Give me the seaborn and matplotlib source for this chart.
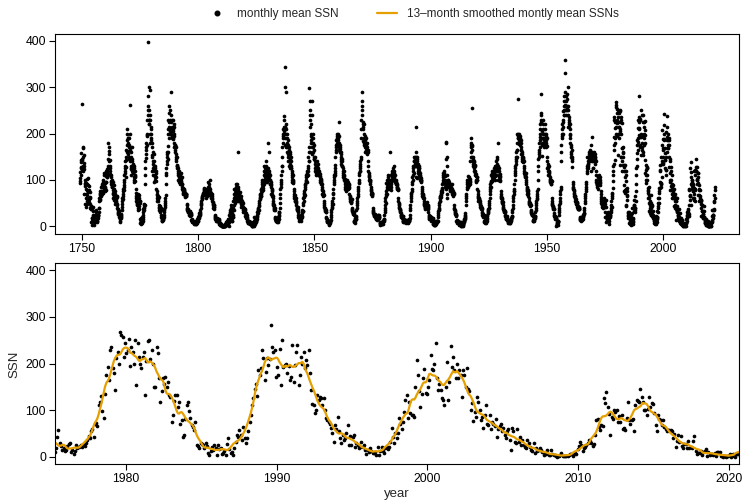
import numpy as np
import pandas as pd
import matplotlib
matplotlib.use("Agg")
import matplotlib.pyplot as plt
from matplotlib.lines import Line2D
import seaborn as sns

# ---------------- data: monthly mean sunspot numbers (one row per year) ----------------
ssn_1749_1799 = [
    [97,104,117,93,142,139,158,110,127,126,264,142],
    [122,127,144,118,129,171,149,168,153,130,123,137],
    [70,99,48,91,94,87,60,70,41,80,93,67],
    [55,48,101,79,91,104,73,76,75,89,87,79],
    [60,58,52,40,48,73,61,62,43,36,38,44],
    [8,2,12,18,36,18,25,33,11,16,22,42],
    [19,12,9,13,2,8,9,13,18,24,30,35],
    [12,25,15,15,9,11,20,10,23,21,18,25],
    [24,31,39,40,55,60,56,58,75,70,68,72],
    [66,76,70,84,67,85,90,86,87,70,95,76],
    [71,100,91,80,115,95,88,110,82,93,76,79],
    [85,95,78,110,120,108,95,115,123,106,118,105],
    [110,130,125,145,180,170,162,140,128,155,130,143],
    [112,125,118,106,98,92,110,96,85,100,95,87],
    [90,85,78,60,95,70,72,62,88,65,80,57],
    [70,55,62,75,48,66,55,60,58,52,63,64],
    [48,40,45,30,38,29,35,27,36,25,33,32],
    [20,25,15,12,18,22,8,17,24,20,21,26],
    [35,42,48,55,60,66,58,75,80,70,78,89],
    [95,100,110,85,125,120,130,115,140,105,128,143],
    [150,165,160,185,175,210,200,155,180,190,162,190],
    [175,190,150,145,170,200,165,262,170,140,125,124],
    [110,150,130,160,140,170,125,120,145,115,135,132],
    [120,115,130,100,105,95,125,110,98,118,105,109],
    [80,72,65,55,60,48,52,62,45,58,50,49],
    [40,70,35,45,68,52,38,60,44,55,50,55],
    [7,15,4,12,18,9,10,6,14,16,20,9],
    [15,12,25,20,30,38,35,40,42,45,48,46],
    [90,110,125,140,155,165,148,170,180,175,195,197],
    [200,230,250,260,398,280,240,300,250,220,230,230],
    [220,180,240,200,230,295,190,210,185,200,215,153],
    [170,150,180,120,160,135,140,125,110,155,130,121],
    [140,95,120,130,105,100,125,110,98,115,105,119],
    [80,75,70,60,68,55,65,58,60,62,55,62],
    [45,42,35,40,38,30,44,33,38,36,35,40],
    [25,20,15,18,10,12,22,14,16,20,18,14],
    [15,20,25,30,35,38,42,45,50,55,60,67],
    [90,110,115,125,140,150,135,160,155,145,160,173],
    [200,230,210,245,225,190,260,215,205,250,200,210],
    [230,200,290,210,225,240,195,215,205,230,190,188],
    [210,230,190,205,220,180,215,195,170,200,175,172],
    [175,160,165,150,140,170,145,155,130,150,125,133],
    [130,125,115,120,100,110,105,95,118,100,112,102],
    [105,110,95,100,90,115,98,102,92,96,105,92],
    [90,85,80,75,82,70,78,72,80,75,78,73],
    [75,70,72,65,68,62,70,66,70,64,68,70],
    [45,48,40,38,35,32,30,36,30,32,28,32],
    [30,28,25,32,24,26,22,30,28,25,27,23],
    [14,12,15,10,8,11,9,12,10,8,11,8],
    [8,6,5,9,7,4,8,6,7,9,5,8],
    [5,8,10,6,12,9,15,14,10,16,12,19],
]

ssn_1800_1849 = [
    [15,18,20,22,25,21,28,26,24,30,28,34],
    [40,45,50,48,55,60,58,62,65,60,68,69],
    [70,72,68,80,75,78,70,82,76,74,78,77],
    [78,75,60,80,72,68,75,65,70,74,72,73],
    [70,85,80,95,75,90,82,78,70,85,72,68],
    [80,75,100,70,65,72,60,68,62,70,58,64],
    [60,55,50,45,52,40,48,42,45,38,46,41],
    [25,22,20,18,15,16,14,12,18,15,13,14],
    [10,12,18,14,15,11,13,16,12,15,14,12],
    [5,6,3,4,2,5,6,4,3,5,4,3],
    [0,0,0,0,0,0,0,0,0,0,0,0],
    [0,2,0,0,5,0,3,0,2,6,3,7],
    [5,8,3,10,6,12,8,4,15,7,10,12],
    [0,12,15,25,8,30,22,18,28,10,35,40],
    [30,15,45,20,10,35,18,28,12,25,20,20],
    [40,55,35,70,60,80,45,65,72,50,58,78],
    [85,70,90,65,78,55,90,60,72,58,68,55],
    [80,75,160,85,55,70,65,72,58,66,60,74],
    [60,55,48,65,50,42,58,55,48,52,50,52],
    [45,40,35,50,30,42,38,35,40,32,38,37],
    [35,28,30,22,25,20,28,18,22,20,24,18],
    [15,10,8,12,6,10,8,7,11,9,8,6],
    [8,5,7,6,4,9,5,8,6,5,7,6],
    [0,1,0,2,0,3,5,2,4,0,3,6],
    [20,8,10,15,5,12,14,6,10,15,9,13],
    [10,20,15,30,25,22,35,28,40,32,38,43],
    [35,45,50,55,62,58,70,60,68,65,72,79],
    [70,65,80,90,75,95,85,100,78,88,82,88],
    [95,120,100,110,130,90,115,105,125,95,110,107],
    [100,130,110,140,95,120,125,105,118,102,115,122],
    [110,125,180,100,120,115,105,160,110,100,92,92],
    [100,95,85,90,70,88,75,80,65,78,70,64],
    [60,55,50,48,45,40,42,38,45,35,40,34],
    [20,18,15,12,14,10,16,12,8,11,12,13],
    [10,15,12,20,8,18,25,22,15,28,30,31],
    [40,50,60,70,80,85,95,90,110,100,120,130],
    [130,150,170,180,190,200,210,195,215,205,230,237],
    [200,175,300,343,215,215,190,290,210,220,200,170],
    [200,180,190,170,160,175,150,185,155,140,165,154],
    [130,170,150,160,125,145,135,155,140,130,150,126],
    [125,115,110,120,100,105,95,110,100,98,95,93],
    [75,70,80,60,65,55,68,58,62,55,60,52],
    [50,45,55,38,42,35,40,38,36,42,32,31],
    [25,20,15,22,12,18,20,14,16,18,15,22],
    [12,18,22,15,25,20,30,28,22,35,32,32],
    [45,50,60,55,70,65,62,75,72,80,68,88],
    [85,90,100,95,110,105,98,115,108,120,95,111],
    [110,120,130,125,150,140,160,170,140,298,270,160],
    [215,250,240,230,200,185,220,180,195,190,170,155],
    [240,270,200,180,170,190,160,175,150,165,145,145],
]

ssn_1850_1899 = [
    [140,150,125,135,120,130,110,125,115,130,120,116],
    [130,115,140,120,125,110,135,118,122,115,120,114],
    [115,110,105,100,112,95,108,98,102,95,100,92],
    [90,85,80,78,70,75,68,72,65,70,68,68],
    [55,50,45,42,40,38,35,36,32,35,30,30],
    [20,18,15,12,10,14,8,12,10,12,11,10],
    [5,8,3,10,6,4,8,12,7,10,12,13],
    [20,25,30,35,40,45,42,50,55,48,60,71],
    [70,80,90,95,100,110,105,115,120,110,125,133],
    [150,160,170,175,185,165,195,180,200,175,190,195],
    [190,200,175,185,170,225,180,195,165,175,160,166],
    [170,160,155,150,145,140,160,135,140,130,145,129],
    [130,125,120,110,115,105,118,100,108,102,110,102],
    [95,90,85,80,88,75,82,78,85,80,84,80],
    [95,100,85,90,80,95,88,92,85,90,82,88],
    [70,65,60,62,55,58,52,56,50,55,52,59],
    [40,38,35,32,30,28,30,26,28,25,30,26],
    [10,8,12,15,6,14,18,12,16,20,15,21],
    [35,40,45,50,55,60,65,70,75,80,85,93],
    [95,100,110,115,120,125,130,118,140,135,150,145],
    [190,210,230,250,290,270,240,260,220,215,225,184],
    [210,200,190,220,180,175,195,170,185,160,175,164],
    [180,190,170,175,160,165,180,155,170,160,165,160],
    [140,130,120,115,110,105,100,108,95,100,98,100],
    [90,85,80,75,78,70,72,68,70,65,72,69],
    [40,35,32,30,28,25,27,24,26,22,25,26],
    [25,22,20,18,16,20,15,18,22,14,17,20],
    [20,25,18,22,24,20,15,22,25,18,20,19],
    [8,6,4,7,3,5,6,4,8,5,7,5],
    [4,6,8,5,10,8,12,10,14,12,16,15],
    [25,30,35,40,45,55,60,50,65,70,75,94],
    [70,85,90,80,100,95,105,85,110,90,95,81],
    [90,95,100,161,95,89,85,100,110,90,95,78],
    [85,95,100,110,105,115,120,100,125,110,105,103],
    [130,120,115,110,105,100,95,110,100,98,95,92],
    [100,95,90,92,85,88,80,85,82,80,78,80],
    [60,55,50,48,45,40,42,38,35,32,30,34],
    [28,25,22,24,20,22,18,20,22,19,21,21],
    [12,10,14,8,15,10,12,9,13,8,12,11],
    [8,10,12,6,14,8,11,13,9,12,10,12],
    [6,8,10,12,9,14,10,15,12,16,13,17],
    [25,35,40,45,55,60,65,70,72,75,80,92],
    [95,105,110,100,125,120,130,140,115,140,130,150],
    [130,145,150,140,135,160,215,140,130,150,105,104],
    [150,140,135,145,125,130,120,135,115,130,125,110],
    [125,120,115,110,105,100,108,100,104,95,100,97],
    [85,80,75,70,72,65,68,62,70,60,65,61],
    [55,50,48,45,42,40,44,38,42,40,42,40],
    [50,48,45,52,42,40,46,38,44,40,42,46],
    [30,25,22,20,18,15,22,18,16,20,17,20],
]

ssn_1900_1949 = [
    [18,20,15,12,16,14,18,12,16,15,14,18],
    [5,4,6,3,2,5,4,7,6,3,5,5],
    [3,5,8,6,10,7,9,12,8,10,12,12],
    [20,25,28,32,35,40,38,45,50,55,60,62],
    [55,60,65,62,70,68,75,72,78,80,74,82],
    [90,110,100,95,115,105,120,100,110,98,115,108],
    [95,100,85,90,146,80,180,182,85,70,60,88],
    [130,150,110,100,95,95,98,100,90,95,85,86],
    [85,90,80,75,85,78,82,76,80,85,78,77],
    [90,80,75,70,72,68,75,65,70,72,70,71],
    [45,40,38,35,32,30,28,26,25,24,22,26],
    [12,10,8,14,6,10,12,8,9,7,10,8],
    [4,6,8,5,3,7,9,5,6,4,8,7],
    [3,1,0,4,2,1,5,3,2,0,4,4],
    [5,8,10,12,14,16,18,20,15,22,25,28],
    [45,55,60,65,70,80,85,90,95,100,95,108],
    [90,100,85,95,105,90,100,88,98,92,102,95],
    [140,150,160,170,180,175,190,255,175,165,150,173],
    [150,140,145,135,130,140,125,138,120,130,132,130],
    [120,115,110,100,108,95,112,98,105,100,105,100],
    [80,75,70,65,60,62,55,58,60,55,58,55],
    [55,50,45,48,42,40,44,38,40,42,38,40],
    [30,28,25,22,24,20,26,22,20,24,22,21],
    [10,8,12,6,10,8,14,9,11,7,12,10],
    [12,15,18,22,25,28,30,32,35,38,40,40],
    [45,50,55,60,70,75,80,85,90,85,95,98],
    [95,110,100,115,105,98,120,108,102,110,100,115],
    [110,120,105,125,115,110,130,108,118,100,125,110],
    [120,125,140,130,150,135,145,125,120,130,118,118],
    [100,180,120,110,105,125,100,112,98,108,100,105],
    [75,70,65,60,62,55,58,52,60,50,55,51],
    [45,42,40,38,35,32,34,30,32,30,33,30],
    [22,25,20,18,16,20,15,18,22,14,17,16],
    [12,10,8,11,6,10,9,7,12,8,10,7],
    [6,8,10,12,14,12,16,15,18,20,22,22],
    [30,35,40,45,55,60,65,70,75,80,75,92],
    [100,110,115,120,125,130,140,135,150,145,160,164],
    [150,165,180,200,190,200,275,190,195,185,180,177],
    [190,200,185,195,175,190,180,185,170,180,165,156],
    [165,160,155,150,145,140,150,138,145,140,148,140],
    [130,125,120,115,110,108,112,105,110,100,115,106],
    [95,90,85,80,82,75,78,70,75,72,78,70],
    [65,60,55,52,50,48,50,45,48,44,48,45],
    [35,32,30,28,26,25,27,24,26,22,25,25],
    [10,12,14,15,12,16,18,14,20,18,22,22],
    [30,35,40,45,50,55,60,58,65,70,75,80],
    [100,120,130,145,150,160,165,155,180,170,185,192],
    [200,220,210,230,245,225,285,240,190,205,175,151],
    [180,200,210,220,230,190,185,175,200,180,170,176],
    [200,210,190,220,185,195,175,200,180,170,190,173],
]

ssn_1950_1999 = [
    [140,150,125,135,120,130,110,125,115,130,120,116],
    [110,105,100,95,102,98,92,100,95,96,90,97],
    [60,55,50,48,45,42,40,44,38,42,38,38],
    [28,25,22,20,18,22,16,20,18,17,19,16],
    [1,2,5,8,4,6,3,10,8,12,9,11],
    [25,30,35,40,45,50,55,60,70,75,80,85],
    [140,160,175,190,195,210,200,220,225,215,230,248],
    [200,240,250,240,270,260,280,250,290,359,330,262],
    [280,250,270,240,260,285,275,260,255,250,215,300],
    [260,240,250,235,220,230,215,225,210,200,220,196],
    [190,180,170,175,160,155,150,165,145,150,140,128],
    [95,90,85,80,82,75,70,78,65,72,60,65],
    [65,60,55,58,52,50,55,48,52,46,50,50],
    [45,42,40,44,38,40,36,42,38,36,40,38],
    [20,18,16,15,14,13,12,15,14,13,16,14],
    [15,18,20,16,22,20,24,22,25,26,28,28],
    [35,40,50,55,60,65,70,75,80,85,90,96],
    [130,150,120,115,125,135,130,140,125,135,140,150],
    [140,160,145,155,150,165,140,150,145,155,175,120],
    [160,155,193,145,160,140,150,145,155,140,125,125],
    [150,155,160,145,150,140,155,135,150,145,150,141],
    [120,110,100,95,90,88,92,85,90,88,95,80],
    [95,105,100,110,92,98,90,105,88,100,95,93],
    [75,70,62,55,58,50,48,52,45,48,42,44],
    [40,45,55,50,48,52,60,45,50,48,42,55],
    [30,19,19,9,19,41,57,29,23,15,18,13],
    [14,22,28,30,10,14,5,12,25,18,20,23],
    [25,20,28,22,30,35,45,40,55,60,42,70],
    [72,65,110,118,130,97,82,135,175,193,165,230],
    [236,190,180,143,211,225,200,268,261,257,215,245],
    [223,230,253,195,236,225,200,250,154,245,215,200],
    [190,215,225,132,205,248,250,210,230,200,150,150],
    [236,223,168,118,140,168,157,170,150,160,132,128],
    [75,89,120,132,132,107,118,71,78,43,46,80],
    [111,118,97,82,68,64,57,75,25,22,18,30],
    [28,25,18,30,22,7,4,11,20,15,25,18],
    [3,25,16,18,5,8,11,4,28,39,16,8],
    [10,4,18,32,46,43,57,46,35,64,40,30],
    [40,55,75,90,111,125,146,157,130,186,175,190],
    [230,211,165,182,211,196,210,282,236,225,229,170],
    [193,175,232,154,250,193,197,200,180,195,165,170],
    [240,161,197,225,240,154,175,215,200,225,190,208],
    [196,228,180,143,114,110,93,100,132,121,128,125],
    [110,125,100,82,78,75,71,61,50,32,68,60],
    [84,54,40,29,46,35,39,50,68,25,45,24],
    [43,46,21,30,25,18,20,32,20,25,15,6],
    [14,10,18,12,8,7,10,4,21,4,11,20],
    [11,8,18,20,16,20,32,61,43,30,50,40],
    [50,82,71,60,75,96,121,132,82,118,93,90],
    [90,85,150,207,175,140,107,135,168,189,136,135],
]

ssn_2000_2022 = [
    [150,164,218,189,186,200,243,168,143,157,143,125],
    [121,110,150,204,121,161,237,193,214,186,168,200],
    [168,186,175,128,186,175,150,190,146,140,100,115],
    [77,96,86,128,118,100,78,85,61,90,110,70],
    [68,89,60,75,71,65,80,43,60,65,70,55],
    [61,46,40,55,60,36,14,61,54,32,30,60],
    [32,43,25,36,25,21,18,36,29,20,14,12],
    [29,7,18,11,14,18,14,10,4,8,5,14],
    [4,3,14,5,4,3,1,0,2,3,7,2],
    [2,1,1,1,3,5,5,1,6,7,6,16],
    [22,31,25,11,18,21,25,30,36,34,29,22],
    [27,46,78,80,64,57,67,66,125,116,139,106],
    [92,46,86,80,100,96,100,75,88,75,90,60],
    [61,57,82,118,78,70,78,80,54,111,121,120],
    [118,146,128,118,100,100,90,102,128,107,115,114],
    [93,68,54,89,80,78,67,78,64,60,54,57],
    [57,57,54,39,48,21,33,46,32,45,22,18],
    [26,27,18,33,19,20,19,33,44,13,6,8],
    [7,11,3,9,13,16,2,9,4,5,6,3],
    [8,1,9,9,10,1,1,0,1,0,1,2],
    [6,0,2,5,0,6,6,8,1,14,34,22],
    [10,9,17,24,21,25,35,24,52,37,35,68],
    [54,60,79,84],
]

block_starts = [1749, 1800, 1850, 1900, 1950, 2000]
legend_labels = ["monthly mean SSN", "13\u2013month smoothed montly mean SSNs"]
top_xticks = [1750, 1800, 1850, 1900, 1950, 2000]
bottom_xticks = [1980, 1990, 2000, 2010, 2020]
yticks = [0, 100, 200, 300, 400]

# ---------------- build tables ----------------
t, v = [], []
for start, block in zip(block_starts, [ssn_1749_1799, ssn_1800_1849, ssn_1850_1899,
                                       ssn_1900_1949, ssn_1950_1999, ssn_2000_2022]):
    for k, row in enumerate(block):
        for m, val in enumerate(row):
            t.append(start + k + (m + 0.5) / 12.0)
            v.append(val)
df = pd.DataFrame({"year": t, "ssn": v})

# standard 13-month smoothing (half weights at the ends)
w = np.r_[0.5, np.ones(11), 0.5] / 12.0
sm_vals = np.convolve(df["ssn"].to_numpy(float), w, mode="valid")
sm = pd.DataFrame({"year": df["year"].to_numpy()[6:-6], "ssn": sm_vals})

# ---------------- plot ----------------
sns.set_theme(style="ticks")
plt.rcParams["font.family"] = ["Liberation Sans", "DejaVu Sans"]
plt.rcParams["axes.linewidth"] = 0.8

ORANGE = "#E69F00"
W, H = 743, 503
fig = plt.figure(figsize=(W / 100, H / 100), dpi=100)
ax1 = fig.add_axes([55 / W, 1 - 233.5 / H, 684 / W, 200 / H])
ax2 = fig.add_axes([55 / W, 1 - 464 / H, 684 / W, 201 / H])

sns.scatterplot(data=df, x="year", y="ssn", ax=ax1, s=7, color="black",
                linewidth=0, legend=False)

lo = df[(df["year"] > 1975) & (df["year"] < 2021)]
sns.scatterplot(data=lo, x="year", y="ssn", ax=ax2, s=7, color="black",
                linewidth=0, legend=False)
sm_lo = sm[(sm["year"] > 1974) & (sm["year"] < 2022)]
sns.lineplot(data=sm_lo, x="year", y="ssn", ax=ax2, color=ORANGE, linewidth=1.6,
             estimator=None, sort=False)

for ax in (ax1, ax2):
    ax.set_ylim(-16, 416)
    ax.set_yticks(yticks)
    ax.set_yticklabels([str(y) for y in yticks])
    ax.set_xlabel("")
    ax.set_ylabel("")
    for sp in ax.spines.values():
        sp.set_visible(True)
        sp.set_color("black")
        sp.set_linewidth(0.8)
    ax.tick_params(direction="out", length=4.5, width=0.8, pad=2,
                   labelsize=8.8, colors="black")
    ax.grid(False)

ax1.set_xlim(1738.4, 2032.6)
ax1.set_xticks(top_xticks)
ax1.set_xticklabels([str(x) for x in top_xticks])
ax2.set_xlim(1975.31, 2020.66)
ax2.set_xticks(bottom_xticks)
ax2.set_xticklabels([str(x) for x in bottom_xticks])

fig.text(14 / W, 1 - 364 / H, "SSN", rotation=90, ha="center", va="center", fontsize=9.5)
fig.text(397 / W, 1 - 494 / H, "year", ha="center", va="center", fontsize=9.5)

handles = [Line2D([], [], marker="o", ls="", color="black", markersize=3.3),
           Line2D([], [], color=ORANGE, linewidth=1.6)]
fig.legend(handles, legend_labels, loc="center", bbox_to_anchor=(413 / W, 1 - 14 / H),
           ncol=2, frameon=False, fontsize=8.5, handlelength=1.7,
           handletextpad=0.9, columnspacing=3.2)

fig.savefig("out.png", dpi=100)
